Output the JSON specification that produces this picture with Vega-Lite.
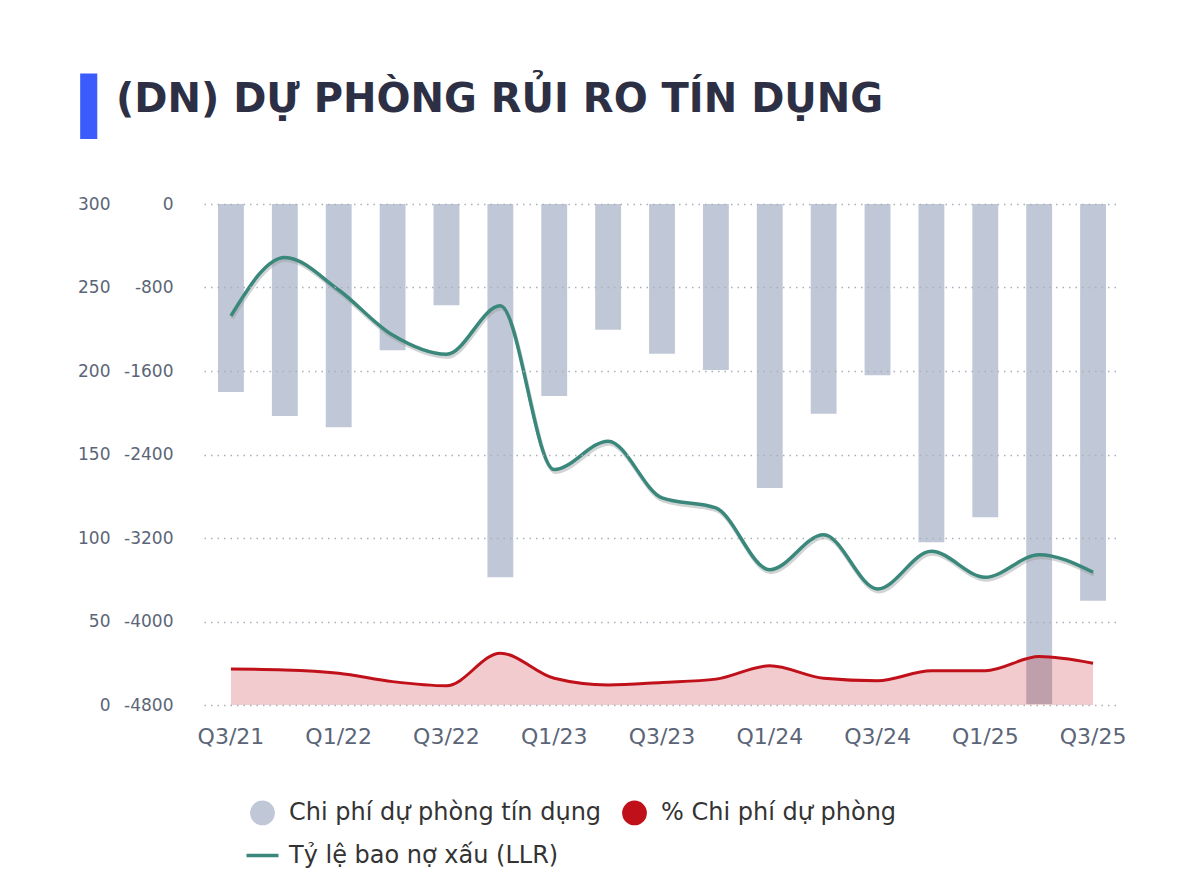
{
  "$schema": "https://vega.github.io/schema/vega-lite/v6.json",
  "width": 916,
  "height": 501,
  "autosize": {"type": "none"},
  "padding": {"left": 204, "top": 204, "right": 80, "bottom": 176},
  "background": "white",
  "config": {
    "view": {"stroke": null},
    "font": "DejaVu Sans"
  },
  "title": {
    "text": "(DN) DỰ PHÒNG RỦI RO TÍN DỤNG",
    "anchor": "start",
    "frame": "group",
    "orient": "top",
    "dx": -88,
    "offset": -40,
    "fontSize": 40,
    "fontWeight": "bold",
    "color": "#2d2f45"
  },
  "data": {
    "values": [
      {"q": "Q3/21", "cost": -1800, "llr": 233, "pct": 21.5},
      {"q": "Q4/21", "cost": -2030, "llr": 268, "pct": 21},
      {"q": "Q1/22", "cost": -2140, "llr": 248.5, "pct": 19},
      {"q": "Q2/22", "cost": -1400, "llr": 221.5, "pct": 14},
      {"q": "Q3/22", "cost": -970, "llr": 210, "pct": 11.5},
      {"q": "Q4/22", "cost": -3575, "llr": 239, "pct": 31},
      {"q": "Q1/23", "cost": -1840, "llr": 141, "pct": 16},
      {"q": "Q2/23", "cost": -1205, "llr": 158, "pct": 12},
      {"q": "Q3/23", "cost": -1435, "llr": 124, "pct": 13.5},
      {"q": "Q4/23", "cost": -1590, "llr": 118, "pct": 15.5},
      {"q": "Q1/24", "cost": -2720, "llr": 81, "pct": 23.5},
      {"q": "Q2/24", "cost": -2010, "llr": 102, "pct": 16},
      {"q": "Q3/24", "cost": -1640, "llr": 69.5, "pct": 14.5},
      {"q": "Q4/24", "cost": -3240, "llr": 92, "pct": 20.5},
      {"q": "Q1/25", "cost": -3000, "llr": 76.5, "pct": 20.5},
      {"q": "Q2/25", "cost": -4790, "llr": 90, "pct": 29},
      {"q": "Q3/25", "cost": -3800, "llr": 79.5, "pct": 25}
    ]
  },
  "encoding": {
    "x": {
      "field": "q",
      "type": "ordinal",
      "sort": null,
      "scale": {"paddingInner": 0.52, "paddingOuter": 0.26},
      "axis": {
        "title": null,
        "values": ["Q3/21", "Q1/22", "Q3/22", "Q1/23", "Q3/23", "Q1/24", "Q3/24", "Q1/25", "Q3/25"],
        "labelAngle": 0,
        "labelFontSize": 22,
        "labelColor": "#5b6577",
        "labelPadding": 21,
        "ticks": false,
        "tickSize": 0,
        "domain": false,
        "grid": false
      }
    }
  },
  "layer": [
    {
      "mark": {"type": "bar", "color": "#c0c7d6"},
      "encoding": {
        "y": {
          "field": "cost",
          "type": "quantitative",
          "scale": {"domain": [-4800, 0], "nice": false},
          "axis": {
            "orient": "left",
            "title": null,
            "values": [-4800, -4000, -3200, -2400, -1600, -800, 0],
            "labelExpr": "'' + datum.value",
            "labelFontSize": 17,
            "labelColor": "#5b6577",
            "labelPadding": 31,
            "ticks": false,
            "tickSize": 0,
            "domain": false,
            "grid": false
          }
        },
        "color": {
          "datum": "Chi phí dự phòng tín dụng",
          "scale": {
            "domain": ["Chi phí dự phòng tín dụng", "% Chi phí dự phòng", "Tỷ lệ bao nợ xấu (LLR)"],
            "range": ["#c0c7d6", "#c0111b", "#3a877b"]
          },
          "legend": {
            "orient": "none",
            "legendX": 46,
            "legendY": 596,
            "title": null,
            "columns": 2,
            "direction": "horizontal",
            "padding": 0,
            "labelFontSize": 24,
            "labelColor": "#333333",
            "labelOffset": 14,
            "labelLimit": 600,
            "columnPadding": 14,
            "rowPadding": 12,
            "symbolSize": 452,
            "encode": {
              "symbols": {
                "update": {
                  "shape": {"signal": "datum.value === 'Tỷ lệ bao nợ xấu (LLR)' ? 'stroke' : 'circle'"},
                  "size": {"signal": "datum.value === 'Tỷ lệ bao nợ xấu (LLR)' ? 1024 : 452"},
                  "fill": {"signal": "datum.value === 'Chi phí dự phòng tín dụng' ? '#c0c7d6' : datum.value === '% Chi phí dự phòng' ? '#c0111b' : 'transparent'"},
                  "stroke": {"signal": "datum.value === 'Tỷ lệ bao nợ xấu (LLR)' ? '#3a877b' : 'transparent'"},
                  "strokeWidth": {"value": 3.5},
                  "opacity": {"value": 1},
                  "fillOpacity": {"value": 1},
                  "strokeOpacity": {"value": 1}
                }
              }
            }
          }
        }
      }
    },
    {
      "layer": [
        {
          "mark": {"type": "area", "interpolate": "monotone", "fillOpacity": 0.22},
          "encoding": {
            "y": {
              "field": "pct",
              "type": "quantitative",
              "scale": {"domain": [0, 300], "nice": false},
              "axis": {
                "orient": "left",
                "title": "▌",
                "titleX": -124,
                "titleY": -123,
                "titleAngle": 0,
                "titleAlign": "left",
                "titleBaseline": "top",
                "titleFont": "DejaVu Sans Mono",
                "titleFontSize": 55,
                "titleFontWeight": "normal",
                "titleColor": "#3b5bfd",
                "values": [0, 50, 100, 150, 200, 250, 300],
                "labelFontSize": 17,
                "labelColor": "#5b6577",
                "labelPadding": 94,
                "ticks": false,
                "tickSize": 0,
                "domain": false,
                "grid": true,
                "gridColor": "#a9afba",
                "gridDash": [1.5, 5],
                "gridWidth": 1.3,
                "zindex": 1
              }
            },
            "color": {"datum": "% Chi phí dự phòng"}
          }
        },
        {
          "mark": {"type": "line", "interpolate": "monotone", "strokeWidth": 3},
          "encoding": {
            "y": {"field": "pct", "type": "quantitative"},
            "color": {"datum": "% Chi phí dự phòng"}
          }
        },
        {
          "mark": {"type": "line", "interpolate": "monotone", "strokeWidth": 4, "color": "#9aa09f", "opacity": 0.45, "xOffset": 1, "yOffset": 2.5},
          "encoding": {
            "y": {"field": "llr", "type": "quantitative"}
          }
        },
        {
          "mark": {"type": "line", "interpolate": "monotone", "strokeWidth": 3.5},
          "encoding": {
            "y": {"field": "llr", "type": "quantitative"},
            "color": {"datum": "Tỷ lệ bao nợ xấu (LLR)"}
          }
        }
      ]
    }
  ],
  "resolve": {"scale": {"y": "independent"}, "axis": {"y": "independent"}}
}
